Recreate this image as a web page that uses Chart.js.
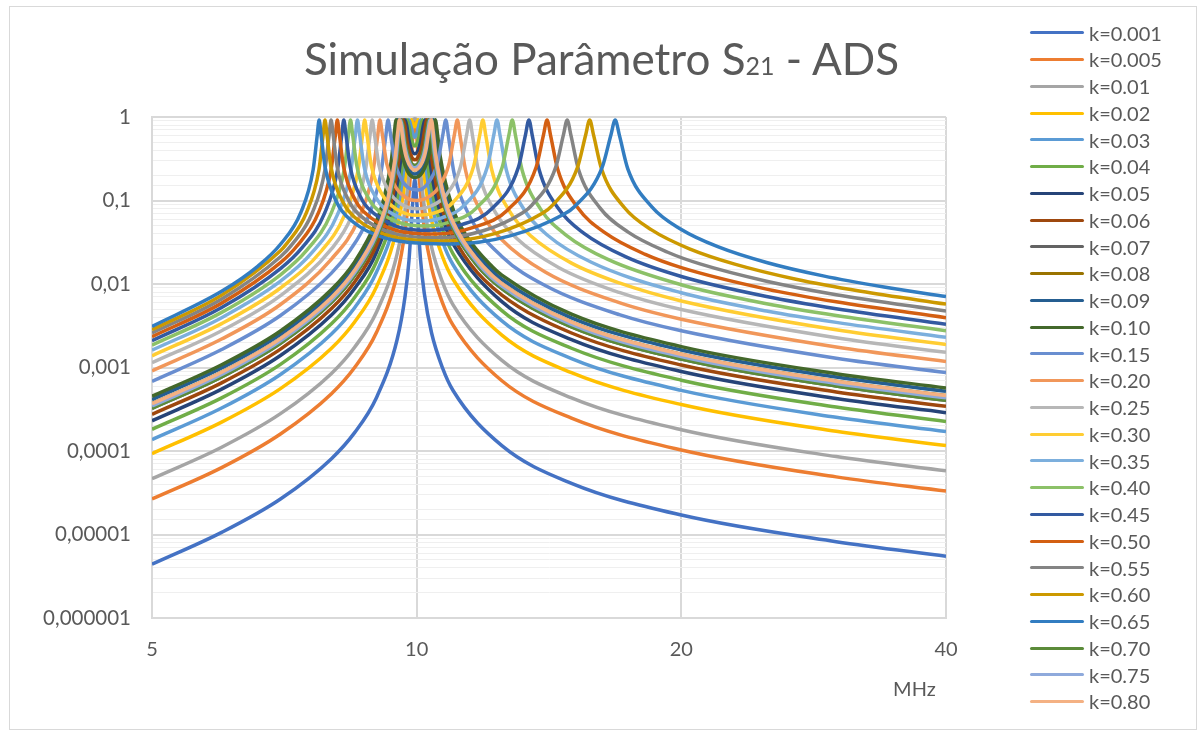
<!DOCTYPE html>
<html lang="pt">
<head>
<meta charset="utf-8">
<title>Simulação Parâmetro S21 - ADS</title>
<script src="https://cdn.jsdelivr.net/npm/chart.js@4.4.1/dist/chart.umd.min.js"></script>
<style>
  body { margin: 0; background: #fff; }
  #wrap { position: relative; width: 1203px; height: 735px; font-family: Lato, 'Open Sans', sans-serif; color: #595959; }
  canvas { display: block; }
  #frame { position: absolute; left: 9px; top: 6px; width: 1186px; height: 722px; border: 1px solid #D9D9D9; pointer-events: none; }
  #title { position: absolute; left: 0; top: 36px; width: 1203px; text-align: center; font-size: 44px; line-height: 44px; white-space: nowrap; }
  #title .sub { font-size: 25px; }
  #legend { position: absolute; left: 1030px; top: 19.6px; }
  .item { display: flex; align-items: center; height: 26.76px; font-size: 20px; line-height: 26.76px; white-space: nowrap; }
  .swatch { width: 54px; height: 3px; margin-right: 5px; border-radius: 1.5px; }
</style>
</head>
<body>
<div id="wrap">
  <canvas id="chart" width="1203" height="735"></canvas>
  <div id="title">Simulação Parâmetro S<span class="sub">21</span> - ADS</div>
  <div id="legend"></div>
  <div id="frame"></div>
</div>
<script>
const kLabels = ['k=0.001', 'k=0.005', 'k=0.01', 'k=0.02', 'k=0.03', 'k=0.04', 'k=0.05', 'k=0.06', 'k=0.07',
  'k=0.08', 'k=0.09', 'k=0.10', 'k=0.15', 'k=0.20', 'k=0.25', 'k=0.30', 'k=0.35', 'k=0.40', 'k=0.45',
  'k=0.50', 'k=0.55', 'k=0.60', 'k=0.65', 'k=0.70', 'k=0.75', 'k=0.80'];

const seriesColors = ['#4472C4', '#ED7D31', '#A5A5A5', '#FFC000', '#5B9BD5', '#70AD47', '#264478', '#9E480E',
  '#636363', '#997300', '#255E91', '#43682B', '#698ED0', '#F1975A', '#B7B7B7', '#FFCD33', '#7CAFDD', '#8CC168',
  '#335AA1', '#D35F12', '#848484', '#CC9900', '#327DC1', '#5B8B39', '#8FAADC', '#F4B183'];

const xTicks = [5, 10, 20, 40];
const yTickLabels = ['0,000001', '0,00001', '0,0001', '0,001', '0,01', '0,1', '1'];

// readings per curve: [MHz, |S21|]
const k0001 = [[5,4.4e-6],[6,1.06e-5],[7,2.66e-5],[8,8.1e-5],[8.5,1.66e-4],[9,4.35e-4],[9.5,2.15e-3],[9.7,7.1e-3],[9.8,0.0189],[9.9,0.099],[9.95,0.18],[10,0.1],[10.1,0.02],[10.2,7.8e-3],[10.4,2.57e-3],[10.7,9.9e-4],[11,5.3e-4],[12.5,1.16e-4],[15,4.1e-5],[20,1.71e-5],[30,8.2e-6],[40,5.5e-6]];
const k0005 = [[5,2.66e-5],[6,6.33e-5],[7,1.6e-4],[8,4.86e-4],[8.5,1.0e-3],[9,2.62e-3],[9.5,0.0129],[9.7,0.043],[9.8,0.116],[9.9,0.586],[9.95,0.89],[10,0.594],[10.1,0.124],[10.2,0.0475],[10.4,0.0155],[10.7,5.96e-3],[11,3.21e-3],[12.5,6.94e-4],[15,2.47e-4],[20,1.03e-4],[30,4.9e-5],[40,3.31e-5]];
const k001 = [[5,4.65e-5],[6,1.11e-4],[7,2.8e-4],[8,8.5e-4],[8.5,1.75e-3],[9,4.59e-3],[9.5,0.0228],[9.7,0.077],[9.8,0.216],[9.85,0.457],[9.9,0.91],[9.95,0.95],[10,0.92],[10.05,0.476],[10.1,0.231],[10.2,0.0856],[10.4,0.0274],[10.7,0.0105],[11,5.62e-3],[12.5,1.215e-3],[15,4.33e-4],[20,1.8e-4],[30,8.57e-5],[40,5.79e-5]];
const k002 = [[5,9.3e-5],[6,2.22e-4],[7,5.59e-4],[8,1.7e-3],[8.5,3.51e-3],[9,9.24e-3],[9.5,0.0472],[9.7,0.174],[9.8,0.564],[9.86,0.93],[9.95,0.764],[10.04,0.93],[10.1,0.613],[10.2,0.197],[10.4,0.0574],[10.7,0.0213],[11,0.0114],[12.5,2.44e-3],[15,8.67e-4],[20,3.6e-4],[30,1.72e-4],[40,1.16e-4]];
const k003 = [[5,1.37e-4],[6,3.27e-4],[7,8.26e-4],[8,2.52e-3],[8.5,5.2e-3],[9,0.0138],[9.5,0.0739],[9.7,0.316],[9.75,0.585],[9.8,0.93],[9.88,0.677],[9.95,0.572],[10.02,0.666],[10.1,0.93],[10.15,0.672],[10.2,0.372],[10.4,0.0915],[10.7,0.0324],[11,0.017],[12.5,3.61e-3],[15,1.28e-3],[20,5.32e-4],[30,2.53e-4],[40,1.71e-4]];
const k004 = [[5,1.82e-4],[6,4.33e-4],[7,1.09e-3],[8,3.34e-3],[8.5,6.91e-3],[9,0.0185],[9.5,0.106],[9.65,0.324],[9.7,0.582],[9.75,0.93],[9.8,0.79],[9.85,0.569],[9.95,0.45],[10.05,0.552],[10.1,0.74],[10.15,0.93],[10.2,0.72],[10.25,0.408],[10.4,0.136],[10.7,0.0447],[11,0.023],[12.5,4.8e-3],[15,1.7e-3],[20,7.05e-4],[30,3.36e-4],[40,2.26e-4]];
const k005 = [[5,2.3e-4],[6,5.5e-4],[7,1.39e-3],[8,4.25e-3],[8.5,8.83e-3],[9,0.024],[9.5,0.154],[9.6,0.34],[9.65,0.603],[9.7,0.93],[9.75,0.759],[9.8,0.529],[9.95,0.362],[10.1,0.497],[10.16,0.727],[10.22,0.93],[10.27,0.65],[10.32,0.385],[10.5,0.122],[10.8,0.0463],[11,0.0302],[12.5,6.14e-3],[15,2.16e-3],[20,8.95e-4],[30,4.26e-4],[40,2.88e-4]];
const k006 = [[5,2.75e-4],[6,6.55e-4],[7,1.66e-3],[8,5.09e-3],[8.5,0.0106],[9,0.0293],[9.4,0.118],[9.55,0.333],[9.61,0.655],[9.655,0.93],[9.7,0.773],[9.75,0.52],[9.85,0.344],[9.95,0.307],[10.05,0.336],[10.15,0.469],[10.21,0.693],[10.273,0.93],[10.33,0.624],[10.38,0.379],[10.6,0.109],[10.9,0.0461],[11.5,0.0176],[12.5,7.38e-3],[15,2.59e-3],[20,1.07e-3],[30,5.09e-4],[40,3.43e-4]];
const k007 = [[5,3.24e-4],[6,7.72e-4],[7,1.95e-3],[8,6.03e-3],[8.5,0.0127],[9,0.0357],[9.35,0.122],[9.5,0.336],[9.56,0.656],[9.606,0.93],[9.65,0.764],[9.7,0.504],[9.8,0.32],[9.95,0.262],[10.1,0.306],[10.2,0.433],[10.27,0.683],[10.334,0.93],[10.39,0.641],[10.45,0.363],[10.7,0.101],[11,0.0465],[11.7,0.017],[12.5,8.79e-3],[15,3.06e-3],[20,1.26e-3],[30,6.0e-4],[40,4.05e-4]];
const k008 = [[5,3.68e-4],[6,8.78e-4],[7,2.22e-3],[8,6.89e-3],[8.5,0.0146],[9,0.0421],[9.28,0.11],[9.45,0.322],[9.515,0.653],[9.561,0.93],[9.61,0.723],[9.66,0.477],[9.75,0.31],[9.95,0.232],[10.15,0.288],[10.25,0.412],[10.33,0.701],[10.391,0.93],[10.45,0.626],[10.51,0.361],[10.8,0.0925],[11.15,0.0418],[11.9,0.0162],[12.5,0.0101],[15,3.5e-3],[20,1.44e-3],[30,6.84e-4],[40,4.61e-4]];
const k009 = [[5,4.12e-4],[6,9.85e-4],[7,2.5e-3],[8,7.76e-3],[8.5,0.0165],[9,0.0492],[9.22,0.105],[9.4,0.306],[9.47,0.645],[9.517,0.93],[9.565,0.723],[9.62,0.454],[9.75,0.262],[9.95,0.207],[10.15,0.245],[10.3,0.393],[10.39,0.717],[10.448,0.93],[10.51,0.616],[10.57,0.362],[10.9,0.0858],[11.3,0.0382],[12.1,0.0155],[12.5,0.0114],[15,3.94e-3],[20,1.62e-3],[30,7.68e-4],[40,5.18e-4]];
const k010 = [[5,4.52e-4],[6,1.08e-3],[7,2.74e-3],[8,8.57e-3],[8.5,0.0184],[9,0.0564],[9.18,0.106],[9.36,0.305],[9.43,0.636],[9.478,0.93],[9.525,0.72],[9.58,0.45],[9.75,0.23],[9.95,0.189],[10.15,0.217],[10.35,0.386],[10.44,0.704],[10.5,0.93],[10.57,0.578],[10.63,0.348],[11,0.0789],[11.4,0.0375],[12.2,0.016],[12.5,0.0128],[15,4.35e-3],[20,1.78e-3],[30,8.44e-4],[40,5.69e-4]];
const k015 = [[5,6.83e-4],[6,1.64e-3],[7,4.19e-3],[8,0.0135],[8.4,0.0254],[8.76,0.0551],[9.105,0.212],[9.222,0.583],[9.278,0.92],[9.334,0.639],[9.451,0.283],[9.6,0.183],[9.8,0.141],[10.05,0.134],[10.3,0.161],[10.558,0.277],[10.716,0.635],[10.792,0.92],[10.868,0.586],[11.026,0.216],[11.49,0.0649],[12.5,0.0214],[14,9.59e-3],[17,4.29e-3],[20,2.75e-3],[30,1.29e-3],[40,8.7e-4]];
const k020 = [[5,9.13e-4],[6,2.19e-3],[7,5.68e-3],[8,0.0199],[8.585,0.0596],[8.917,0.219],[9.029,0.589],[9.083,0.92],[9.137,0.632],[9.249,0.272],[9.45,0.149],[9.7,0.11],[10,0.0998],[10.3,0.109],[10.6,0.145],[10.875,0.266],[11.043,0.628],[11.124,0.92],[11.205,0.593],[11.373,0.223],[11.87,0.0693],[12.5,0.0338],[14,0.0139],[17,5.97e-3],[20,3.78e-3],[30,1.76e-3],[40,1.18e-3]];
const k025 = [[5,1.14e-3],[6,2.76e-3],[7,7.26e-3],[8,0.0263],[8.422,0.0628],[8.741,0.223],[8.848,0.593],[8.9,0.92],[8.952,0.628],[9.059,0.266],[9.3,0.129],[9.6,0.0909],[10,0.0797],[10.4,0.0865],[10.8,0.116],[11.224,0.261],[11.403,0.624],[11.489,0.92],[11.575,0.596],[11.754,0.227],[12.285,0.0725],[13,0.0351],[14.5,0.0158],[17,7.92e-3],[20,4.94e-3],[30,2.27e-3],[40,1.52e-3]];
const k030 = [[5,1.38e-3],[6,3.35e-3],[7,8.96e-3],[7.8,0.0252],[8.268,0.0651],[8.574,0.225],[8.677,0.595],[8.727,0.92],[8.777,0.625],[8.88,0.262],[9.15,0.115],[9.5,0.078],[10,0.0664],[10.5,0.0714],[11,0.0953],[11.609,0.257],[11.801,0.621],[11.893,0.92],[11.985,0.599],[12.177,0.23],[12.746,0.0749],[13.5,0.0373],[15,0.0178],[17,0.0103],[20,6.27e-3],[30,2.83e-3],[40,1.89e-3]];
const k035 = [[5,1.61e-3],[6,3.95e-3],[7,0.0108],[7.6,0.0237],[8.122,0.0668],[8.417,0.227],[8.516,0.597],[8.564,0.92],[8.612,0.623],[8.711,0.26],[9,0.106],[9.5,0.0648],[10.1,0.0567],[10.7,0.0625],[11.3,0.0856],[12.035,0.254],[12.242,0.619],[12.341,0.92],[12.441,0.601],[12.647,0.232],[13.259,0.0769],[14.1,0.0381],[15.8,0.0182],[20,7.85e-3],[25,4.76e-3],[30,3.47e-3],[40,2.3e-3]];
const k040 = [[5,1.85e-3],[6,4.57e-3],[7,0.0129],[7.5,0.0254],[7.983,0.0681],[8.267,0.229],[8.363,0.598],[8.409,0.92],[8.455,0.622],[8.551,0.258],[8.835,0.102],[9.1,0.0718],[9.5,0.0556],[10.2,0.0495],[10.9,0.0552],[11.7,0.0816],[12.513,0.252],[12.737,0.618],[12.845,0.92],[12.953,0.602],[13.177,0.234],[13.84,0.0783],[14.8,0.0383],[16.5,0.0197],[20,9.8e-3],[25,5.81e-3],[30,4.2e-3],[40,2.76e-3]];
const k045 = [[5,2.09e-3],[6,5.22e-3],[7,0.0153],[7.4,0.0269],[7.851,0.0691],[8.126,0.23],[8.218,0.599],[8.263,0.92],[8.308,0.621],[8.4,0.256],[8.675,0.1],[8.8,0.0814],[9.5,0.0488],[10.3,0.0439],[11.2,0.0506],[12.2,0.0812],[13.055,0.251],[13.299,0.616],[13.417,0.92],[13.535,0.603],[13.779,0.235],[14.502,0.0796],[15.5,0.0404],[17.3,0.0211],[20,0.0123],[25,7.08e-3],[30,5.06e-3],[40,3.3e-3]];
const k050 = [[5,2.34e-3],[6,5.9e-3],[7,0.018],[7.3,0.0281],[7.726,0.0701],[7.991,0.231],[8.081,0.6],[8.124,0.92],[8.167,0.62],[8.257,0.255],[8.522,0.099],[8.7,0.0737],[9.5,0.0435],[10.5,0.0396],[11.6,0.0476],[12.7,0.0777],[13.673,0.25],[13.942,0.615],[14.071,0.92],[14.2,0.604],[14.469,0.236],[15.265,0.0807],[16.4,0.0406],[18.2,0.0226],[20,0.0157],[25,8.69e-3],[30,6.12e-3],[40,3.95e-3]];
const k055 = [[5,2.59e-3],[6,6.61e-3],[7,0.0212],[7.2,0.029],[7.607,0.0709],[7.864,0.232],[7.95,0.601],[7.992,0.92],[8.034,0.619],[8.12,0.254],[8.377,0.098],[8.6,0.0678],[9.5,0.0393],[10.6,0.0358],[11.9,0.0434],[13.2,0.0715],[13.506,0.087],[14.391,0.249],[14.689,0.615],[14.833,0.92],[14.977,0.605],[15.275,0.237],[16.16,0.0816],[17.4,0.0418],[19.3,0.024],[21,0.0174],[25,0.0108],[30,7.45e-3],[40,4.74e-3]];
const k060 = [[5,2.84e-3],[6,7.36e-3],[7,0.025],[7.1,0.0296],[7.493,0.0716],[7.742,0.233],[7.826,0.602],[7.866,0.92],[7.906,0.618],[7.99,0.253],[8.239,0.097],[8.5,0.063],[9.5,0.0359],[10.8,0.0328],[12.3,0.0404],[13.9,0.0703],[14.24,0.0855],[15.235,0.248],[15.57,0.614],[15.732,0.92],[15.894,0.606],[16.23,0.238],[17.225,0.0825],[18.5,0.0445],[20.5,0.026],[23,0.0173],[27,0.0114],[32,8.18e-3],[40,5.74e-3]];
const k065 = [[5,3.1e-3],[6,8.17e-3],[6.6,0.0164],[7,0.0299],[7.384,0.0721],[7.625,0.233],[7.707,0.602],[7.746,0.92],[7.785,0.618],[7.867,0.253],[8.108,0.096],[8.4,0.0592],[9.5,0.033],[11,0.0302],[12.8,0.038],[14.7,0.0683],[15.113,0.0843],[16.25,0.247],[16.634,0.613],[16.819,0.92],[17.004,0.606],[17.388,0.238],[18.525,0.0834],[20,0.045],[22,0.028],[25,0.0181],[29,0.0125],[34,9.2e-3],[40,7.07e-3]];
const k070 = [[5,3.24e-4],[6,7.72e-4],[7,1.95e-3],[8,6.03e-3],[8.5,0.0127],[9,0.0357],[9.35,0.122],[9.5,0.336],[9.56,0.656],[9.606,0.93],[9.65,0.764],[9.7,0.504],[9.8,0.32],[9.95,0.262],[10.1,0.306],[10.2,0.433],[10.27,0.683],[10.334,0.93],[10.39,0.641],[10.45,0.363],[10.7,0.101],[11,0.0465],[11.7,0.017],[12.5,8.79e-3],[15,3.06e-3],[20,1.26e-3],[30,6.0e-4],[40,4.05e-4]];
const k075 = [[5,3.46e-4],[6,8.25e-4],[7,2.09e-3],[8,6.45e-3],[8.5,0.0136],[9,0.0388],[9.3,0.108],[9.47,0.314],[9.537,0.651],[9.583,0.93],[9.63,0.743],[9.68,0.49],[9.75,0.342],[9.95,0.246],[10.15,0.316],[10.22,0.412],[10.3,0.692],[10.362,0.93],[10.42,0.633],[10.48,0.362],[10.75,0.0964],[11.1,0.0419],[11.8,0.0166],[12.5,9.45e-3],[15,3.28e-3],[20,1.35e-3],[30,6.42e-4],[40,4.33e-4]];
const k080 = [[5,3.68e-4],[6,8.78e-4],[7,2.22e-3],[8,6.89e-3],[8.5,0.0146],[9,0.0421],[9.28,0.11],[9.45,0.322],[9.515,0.653],[9.561,0.93],[9.61,0.723],[9.66,0.477],[9.75,0.31],[9.95,0.232],[10.15,0.288],[10.25,0.412],[10.33,0.701],[10.391,0.93],[10.45,0.626],[10.51,0.361],[10.8,0.0925],[11.15,0.0418],[11.9,0.0162],[12.5,0.0101],[15,3.5e-3],[20,1.44e-3],[30,6.84e-4],[40,4.61e-4]];

const seriesPoints = [k0001, k0005, k001, k002, k003, k004, k005, k006, k007, k008, k009, k010,
  k015, k020, k025, k030, k035, k040, k045, k050, k055, k060, k065, k070, k075, k080];

// exponent of a power of ten, or null for the in-between ticks
function decade(v) {
  const e = Math.log10(v);
  const r = Math.round(e);
  return Math.abs(e - r) < 1e-6 ? r : null;
}

Chart.defaults.font.family = "Lato, 'Open Sans', sans-serif";
Chart.defaults.color = '#595959';

const datasets = seriesPoints.map((points, i) => ({
  label: kLabels[i],
  data: points,
  borderColor: seriesColors[i],
  backgroundColor: seriesColors[i],
  borderWidth: 3.5,
  pointRadius: 0,
  fill: false,
  cubicInterpolationMode: 'monotone',
  order: seriesPoints.length - i // later series drawn on top, like the original
}));

const chart = new Chart(document.getElementById('chart'), {
  type: 'line',
  data: { datasets },
  options: {
    responsive: false,
    animation: false,
    devicePixelRatio: 1,
    layout: { padding: { left: 0, top: 117, right: 257, bottom: 0 } },
    plugins: {
      legend: { display: false },
      title: { display: false },
      tooltip: { enabled: false }
    },
    scales: {
      x: {
        type: 'logarithmic',
        min: 5,
        max: 40,
        afterBuildTicks: axis => { axis.ticks = xTicks.map(v => ({ value: v })); },
        afterFit: axis => { axis.height = 117; },
        ticks: { callback: v => String(v), font: { size: 20 }, padding: 20, maxRotation: 0, autoSkip: false },
        grid: { color: '#D9D9D9', lineWidth: 2, drawTicks: false },
        border: { color: '#D9D9D9', width: 2 },
        title: { display: true, text: 'MHz  ', align: 'end', font: { size: 20 }, padding: { top: 0, bottom: 33 } }
      },
      y: {
        type: 'logarithmic',
        min: 1e-6,
        max: 1,
        afterFit: axis => { axis.width = 152; },
        ticks: {
          callback: v => { const e = decade(v); return e === null ? '' : yTickLabels[e + 6]; },
          font: { size: 20.5 },
          padding: 21,
          autoSkip: false
        },
        grid: {
          color: ctx => decade(ctx.tick.value) === null ? '#EFEFEF' : '#D9D9D9',
          lineWidth: ctx => decade(ctx.tick.value) === null ? 1 : 2,
          drawTicks: false
        },
        border: { color: '#D9D9D9', width: 2 }
      }
    }
  }
});

// legend column on the right
const legend = document.getElementById('legend');
chart.data.datasets.forEach(ds => {
  const item = document.createElement('div');
  item.className = 'item';
  item.innerHTML = `<span class="swatch" style="background:${ds.borderColor}"></span><span>${ds.label}</span>`;
  legend.appendChild(item);
});
</script>
</body>
</html>
